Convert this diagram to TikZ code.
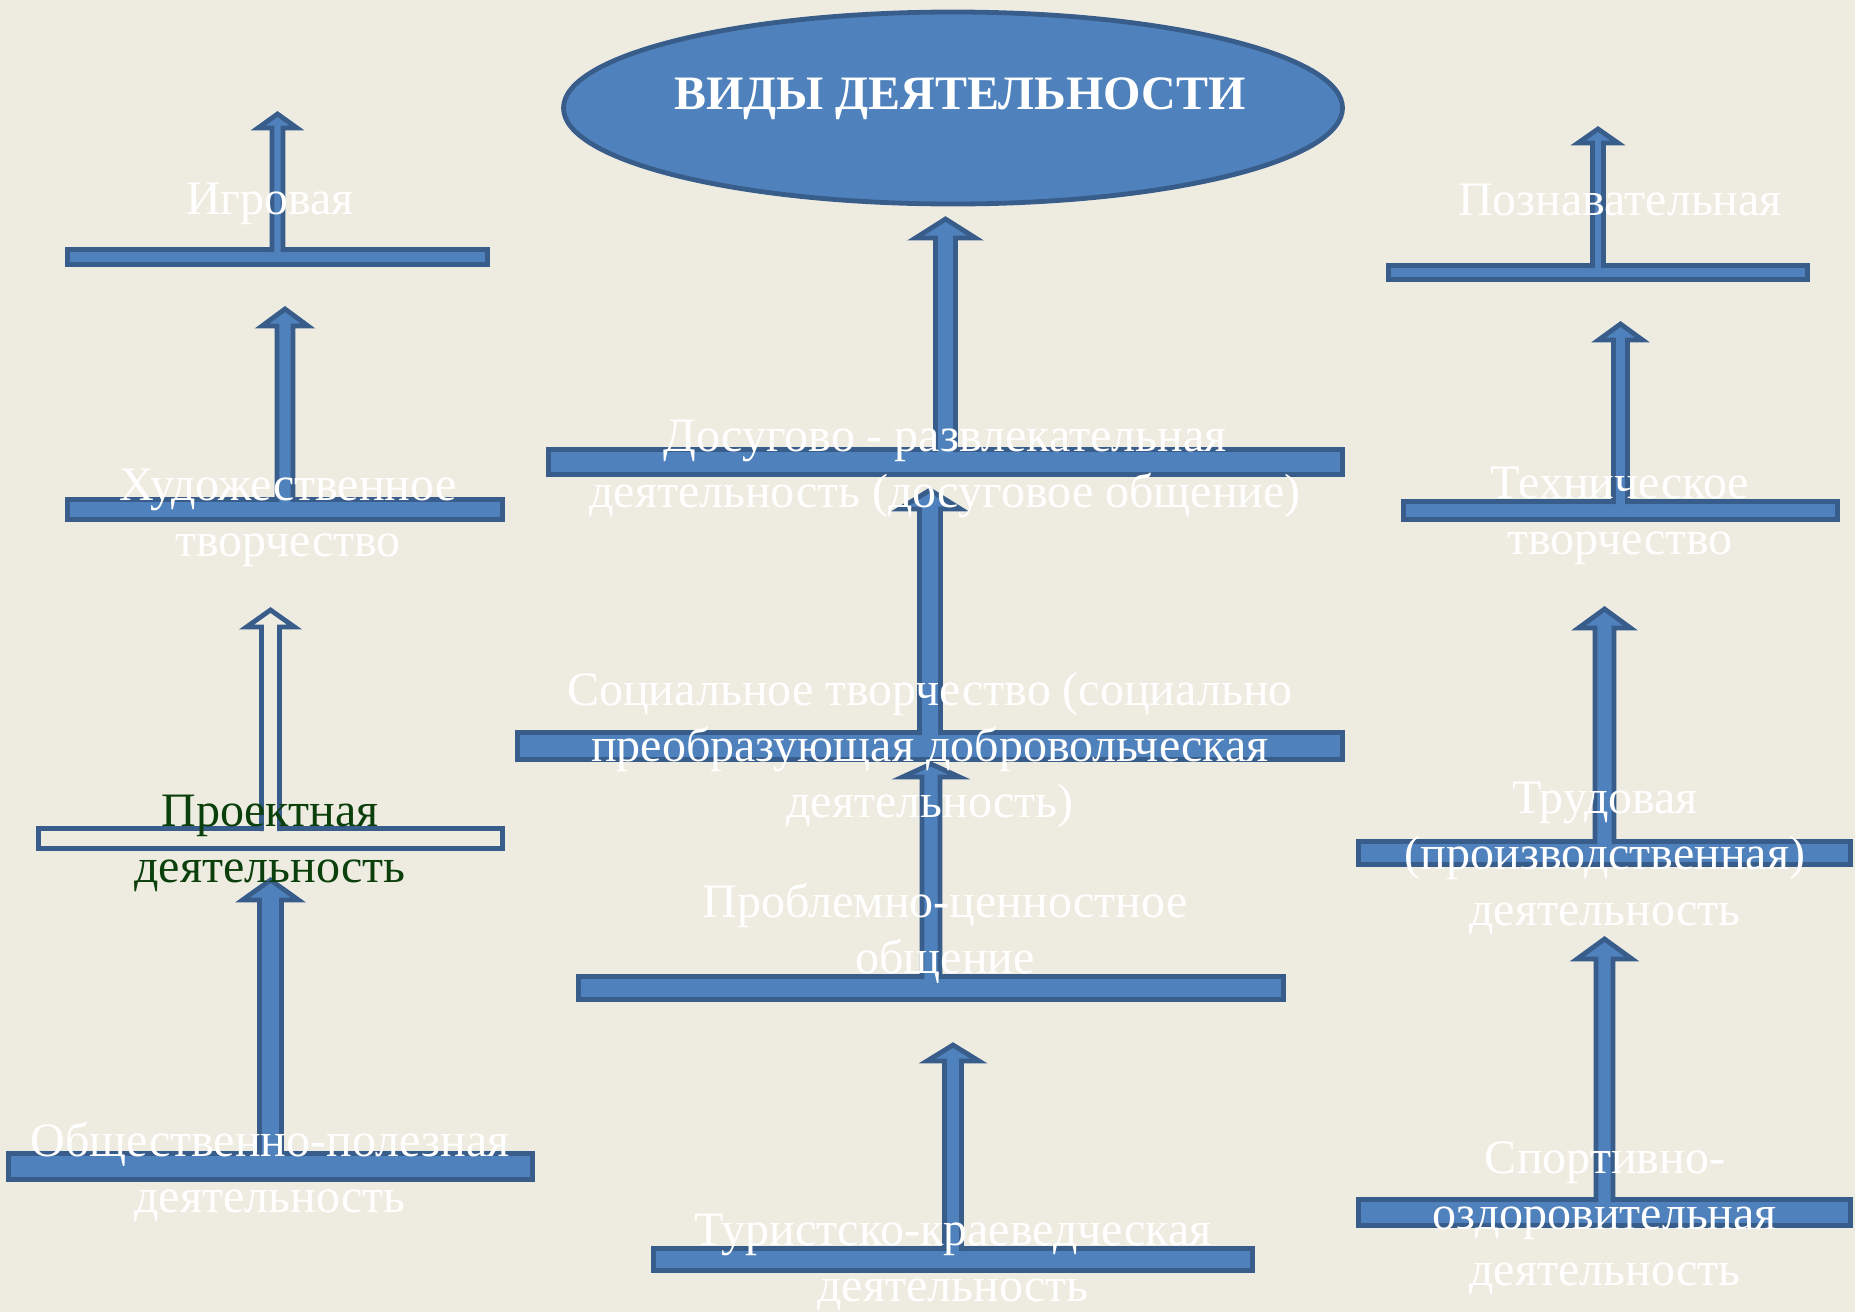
\documentclass[tikz,border=0pt]{standalone}
\usepackage{fontspec}
\setmainfont{Liberation Serif}
\usetikzlibrary{calc,shapes.geometric}
\definecolor{bgTan}{HTML}{EEECE1}
\definecolor{barFill}{HTML}{4F81BD}
\definecolor{barEdge}{HTML}{385D8A}
\definecolor{projGreen}{HTML}{0B3F0B}
\tikzset{
  bar/.style={draw=barEdge, fill=barFill, line width=2.4pt, inner sep=0pt, outer sep=0pt},
  lbl/.style={text=white, font=\fontsize{24}{28}\selectfont, anchor=base, inner sep=0pt},
}
% block arrow growing out of the top of a bar: [fill]{bar}{tip}{shaft}{head}{head length}
\newcommand\barArrow[6][barFill]{%
  \filldraw[draw=barEdge, fill=#1, line width=2.4pt]
    ($(#2.north)+(-#4,2.5)$) -- ($(#2.north |- #3)+(-#4,#6)$) -- ($(#2.north |- #3)+(-#5,#6)$)
    -- (#2.north |- #3) -- ($(#2.north |- #3)+(#5,#6)$) -- ($(#2.north |- #3)+(#4,#6)$)
    -- ($(#2.north)+(#4,2.5)$);
}
\newcommand\rows[1]{\begin{tabular}[t]{@{}c@{}}#1\end{tabular}}

\begin{document}
\begin{tikzpicture}[x=0.5pt, y=-0.5pt]
  \path[use as bounding box, fill=bgTan] (0,0) rectangle (1855,1312);

  \node[bar, ellipse, minimum width=389.5pt, minimum height=96pt] (vidy) at (953,108) {};

  \node[bar, minimum width=210pt, minimum height=7.5pt] (igrbar) at (277.5,257) {};
  \node[bar, minimum width=217.5pt, minimum height=10pt] (hudbar) at (285,509.5) {};
  \node[bar, fill=none, minimum width=232pt, minimum height=10pt] (projbar) at (270.5,838.5) {};
  \node[bar, minimum width=262pt, minimum height=13pt] (obshbar) at (270.5,1166.5) {};
  \node[bar, minimum width=397pt, minimum height=12.5pt] (dosbar) at (945.5,462) {};
  \node[bar, minimum width=412.5pt, minimum height=13.5pt] (socbar) at (930,746) {};
  \node[bar, minimum width=352.5pt, minimum height=11.5pt] (probbar) at (931,988) {};
  \node[bar, minimum width=299.5pt, minimum height=11pt] (turbar) at (953,1259.5) {};
  \node[bar, minimum width=209.5pt, minimum height=7pt] (poznbar) at (1598,272.5) {};
  \node[bar, minimum width=217pt, minimum height=9pt] (techbar) at (1620.5,510.5) {};
  \node[bar, minimum width=246pt, minimum height=11.5pt] (trudbar) at (1604.5,853) {};
  \node[bar, minimum width=246pt, minimum height=13pt] (sportbar) at (1604.5,1212.5) {};

  \coordinate (igrtip) at (278,114);
  \coordinate (hudtip) at (285,309);
  \coordinate (projtip) at (270,610);
  \coordinate (obshtip) at (270,880);
  \coordinate (dostip) at (945,219);
  \coordinate (soctip) at (930,490);
  \coordinate (probtip) at (930,764);
  \coordinate (turtip) at (953,1045);
  \coordinate (ozntip) at (1598,129);
  \coordinate (techtip) at (1620,324);
  \coordinate (trudtip) at (1605,609);
  \coordinate (sporttip) at (1605,939);

  \barArrow{igrbar}{igrtip}{5.5}{19.5}{14}
  \barArrow{hudbar}{hudtip}{8}{23}{17}
  \barArrow[bgTan]{projbar}{projtip}{9}{24}{17}
  \barArrow{obshbar}{obshtip}{11}{28}{20}
  \barArrow{dosbar}{dostip}{10}{30}{19}
  \barArrow{socbar}{soctip}{10.5}{30.5}{19}
  \barArrow{probbar}{probtip}{9}{28.5}{13}
  \barArrow{turbar}{turtip}{8.5}{26}{16}
  \barArrow{poznbar}{ozntip}{5.5}{20}{14}
  \barArrow{techbar}{techtip}{7}{22}{16}
  \barArrow{trudbar}{trudtip}{9.5}{26}{19}
  \barArrow{sportbar}{sporttip}{8.5}{27.5}{20}

  \node[lbl, font=\fontsize{24}{28}\selectfont\bfseries] (vidytext) at (960,109) {ВИДЫ ДЕЯТЕЛЬНОСТИ};
  \node[lbl] (igr) at (270,214) {Игровая};
  \node[lbl] (hud) at (288,500) {\rows{Художественное\\творчество}};
  \node[lbl, text=projGreen] (proj) at (270,826) {\rows{Проектная\\деятельность}};
  \node[lbl] (obsh) at (270,1156) {\rows{Общественно-полезная\\деятельность}};
  \node[lbl] (dos) at (945,451) {\rows{Досугово - развлекательная\\деятельность (досуговое общение)}};
  \node[lbl] (soc) at (930,705) {\rows{Социальное творчество (социально\\преобразующая добровольческая\\деятельность)}};
  \node[lbl] (prob) at (945,917) {\rows{Проблемно-ценностное\\общение}};
  \node[lbl] (tur) at (953,1245) {\rows{Туристско-краеведческая\\деятельность}};
  \node[lbl] (pozn) at (1620,215) {Познавательная};
  \node[lbl] (tech) at (1620,498) {\rows{Техническое\\творчество}};
  \node[lbl] (trud) at (1605,813) {\rows{Трудовая\\(производственная)\\деятельность}};
  \node[lbl] (sport) at (1605,1173) {\rows{Спортивно-\\оздоровительная\\деятельность}};
\end{tikzpicture}
\end{document}
